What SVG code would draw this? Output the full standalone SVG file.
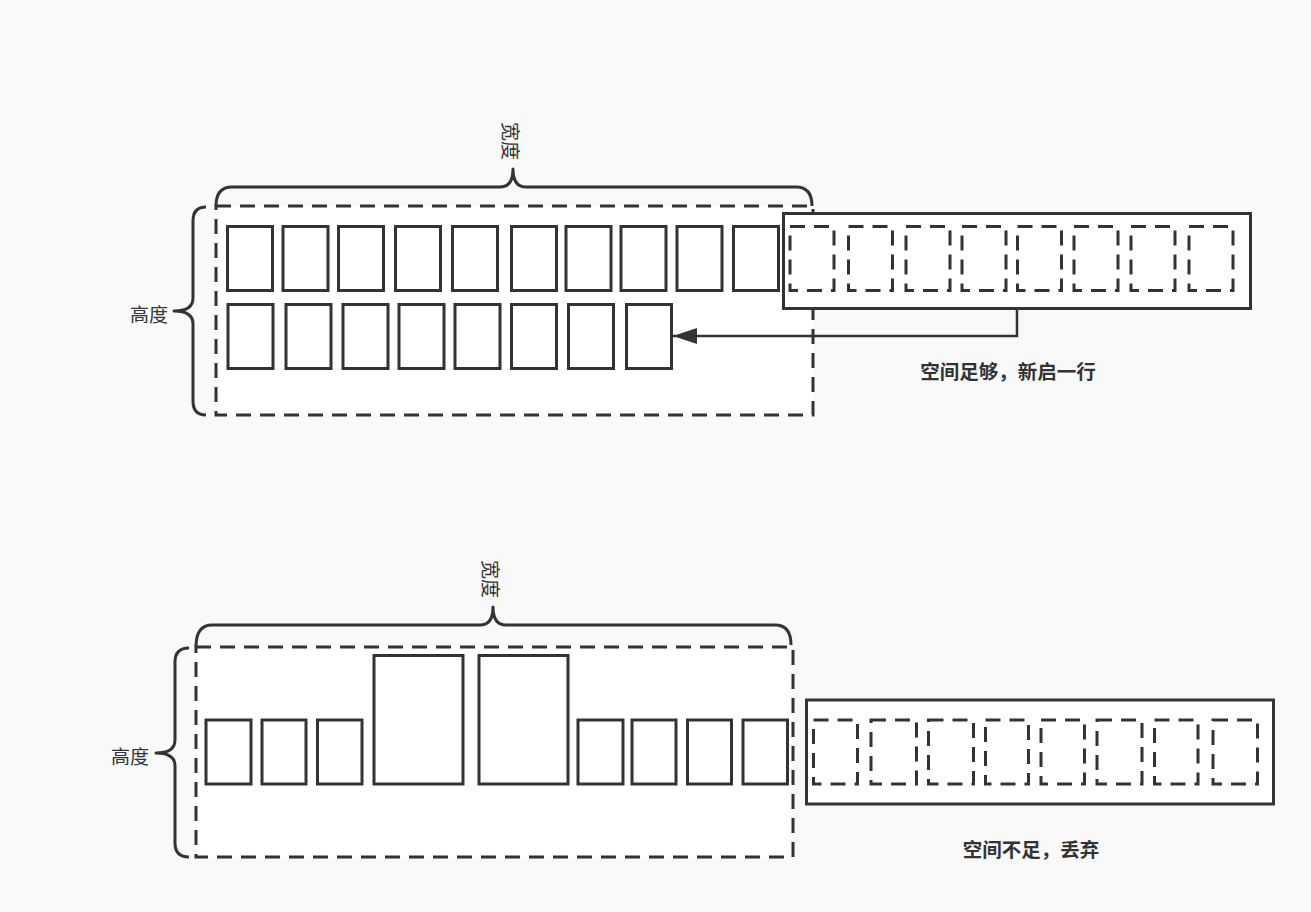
<svg xmlns="http://www.w3.org/2000/svg" width="1311" height="912" viewBox="0 0 1311 912">
  <style>
    .bg { fill: #f9f9f9; }
    .container { fill: #ffffff; stroke: #333333; stroke-width: 3; stroke-dasharray: 15 9; }
    .box { fill: #ffffff; stroke: #333333; stroke-width: 3; }
    .ghost { fill: #ffffff; stroke: #333333; stroke-width: 3; stroke-dasharray: 15 9; }
    .brace { fill: none; stroke: #333333; stroke-width: 3; stroke-linejoin: round; }
    .edge { fill: none; stroke: #333333; stroke-width: 2.5; }
    .lbl { font-family: "Noto Sans CJK SC", "Noto Sans", sans-serif; font-size: 19px; fill: #333333; dominant-baseline: central; }
    .bold { font-family: "Noto Sans CJK SC", "Noto Sans", sans-serif; font-size: 19.5px; font-weight: bold; fill: #333333; dominant-baseline: central; text-anchor: middle; }
  </style>
  <defs>
    <marker id="arrow" markerUnits="userSpaceOnUse" markerWidth="26" markerHeight="20" refX="24" refY="9" orient="auto">
      <path d="M0,1 L24,9 L0,17 Z" fill="#333333"/>
    </marker>
  </defs>
  <rect class="bg" x="0" y="0" width="1311" height="912"/>

  <!-- ===== Top scenario ===== -->
  <g id="top-container">
    <rect class="container" x="216" y="206" width="597" height="209"/>
  </g>
  <g id="top-width-brace">
    <path class="brace" d="M216,206 Q216,187 232,187 L500,187 Q513,187 513,169 Q513,187 526,187 L796,187 Q812,187 812,206"/>
    <text class="lbl" x="511" y="141" text-anchor="middle" transform="rotate(90 511 141)">宽度</text>
  </g>
  <g id="top-height-brace">
    <path class="brace" d="M206,207 Q193,207 193,221 L193,298 Q193,311 174,311 Q193,311 193,324 L193,401 Q193,415 206,415"/>
    <text class="lbl" x="168" y="313" text-anchor="end">高度</text>
  </g>
  <g id="top-row1">
    <rect class="box" x="227.5" y="226.5" width="45" height="64"/>
    <rect class="box" x="283" y="226.5" width="45" height="64"/>
    <rect class="box" x="338.5" y="226.5" width="45" height="64"/>
    <rect class="box" x="395.5" y="226.5" width="45" height="64"/>
    <rect class="box" x="452.5" y="226.5" width="45" height="64"/>
    <rect class="box" x="511.5" y="226.5" width="45" height="64"/>
    <rect class="box" x="566" y="226.5" width="45" height="64"/>
    <rect class="box" x="621" y="226.5" width="45" height="64"/>
    <rect class="box" x="677" y="226.5" width="45" height="64"/>
    <rect class="box" x="733.5" y="226.5" width="45" height="64"/>
  </g>
  <g id="top-row2">
    <rect class="box" x="228" y="304.5" width="45" height="64"/>
    <rect class="box" x="286" y="304.5" width="45" height="64"/>
    <rect class="box" x="343" y="304.5" width="45" height="64"/>
    <rect class="box" x="399" y="304.5" width="45" height="64"/>
    <rect class="box" x="455" y="304.5" width="45" height="64"/>
    <rect class="box" x="511.5" y="304.5" width="45" height="64"/>
    <rect class="box" x="568.5" y="304.5" width="45" height="64"/>
    <rect class="box" x="626.5" y="304.5" width="45" height="64"/>
  </g>
  <g id="top-incoming">
    <rect class="box" x="783.5" y="213.5" width="467" height="95"/>
    <rect class="ghost" x="790" y="226.5" width="44" height="64"/>
    <rect class="ghost" x="848.5" y="226.5" width="44" height="64"/>
    <rect class="ghost" x="906" y="226.5" width="44" height="64"/>
    <rect class="ghost" x="962" y="226.5" width="44" height="64"/>
    <rect class="ghost" x="1017.5" y="226.5" width="44" height="64"/>
    <rect class="ghost" x="1074" y="226.5" width="44" height="64"/>
    <rect class="ghost" x="1131" y="226.5" width="44" height="64"/>
    <rect class="ghost" x="1189" y="226.5" width="44" height="64"/>
  </g>
  <g id="connectors">
    <path class="edge" d="M1017,309 L1017,336 L673,336" marker-end="url(#arrow)"/>
  </g>
  <g id="top-caption">
    <text class="bold" x="1008" y="370">空间足够，新启一行</text>
  </g>

  <!-- ===== Bottom scenario ===== -->
  <g id="bottom-container">
    <rect class="container" x="196" y="647" width="597" height="210"/>
  </g>
  <g id="bottom-width-brace">
    <path class="brace" d="M196,647 Q196,625 212,625 L480,625 Q493,625 493,607 Q493,625 506,625 L775,625 Q791,625 791,645"/>
    <text class="lbl" x="491" y="579" text-anchor="middle" transform="rotate(90 491 579)">宽度</text>
  </g>
  <g id="bottom-height-brace">
    <path class="brace" d="M189,648 Q175,648 175,662 L175,740 Q175,753 156,753 Q175,753 175,766 L175,843 Q175,857 189,857"/>
    <text class="lbl" x="149" y="755" text-anchor="end">高度</text>
  </g>
  <g id="bottom-row">
    <rect class="box" x="206" y="720" width="45" height="64"/>
    <rect class="box" x="262" y="720" width="44" height="64"/>
    <rect class="box" x="317.5" y="720" width="44.5" height="64"/>
    <rect class="box" x="374" y="655.5" width="89" height="128.5"/>
    <rect class="box" x="479" y="655.5" width="89" height="128.5"/>
    <rect class="box" x="578" y="720" width="45" height="64"/>
    <rect class="box" x="632" y="720" width="44" height="64"/>
    <rect class="box" x="687.5" y="720" width="44" height="64"/>
    <rect class="box" x="743" y="720" width="44.5" height="64"/>
  </g>
  <g id="bottom-incoming">
    <rect class="box" x="806.5" y="700" width="467" height="104"/>
    <rect class="ghost" x="813.5" y="720" width="44" height="64"/>
    <rect class="ghost" x="871" y="720" width="45.5" height="64"/>
    <rect class="ghost" x="928.5" y="720" width="45" height="64"/>
    <rect class="ghost" x="985.5" y="720" width="43" height="64"/>
    <rect class="ghost" x="1041" y="720" width="43.5" height="64"/>
    <rect class="ghost" x="1097" y="720" width="45" height="64"/>
    <rect class="ghost" x="1154.5" y="720" width="43.5" height="64"/>
    <rect class="ghost" x="1213" y="720" width="44.5" height="64"/>
  </g>
  <g id="bottom-caption">
    <text class="bold" x="1031" y="848">空间不足，丢弃</text>
  </g>
</svg>
